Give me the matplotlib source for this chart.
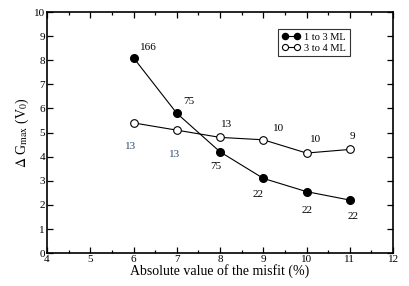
import matplotlib.pyplot as plt
from matplotlib.ticker import MultipleLocator

plt.rcParams['font.family'] = ['Liberation Serif', 'DejaVu Serif']
plt.rcParams['mathtext.fontset'] = 'stix'

# data
misfit = [6, 7, 8, 9, 10, 11]
g_1to3 = [8.1, 5.8, 4.2, 3.1, 2.55, 2.2]
g_3to4 = [5.4, 5.1, 4.8, 4.7, 4.15, 4.3]
lab_1to3 = ['166', '75', '75', '22', '22', '22']
lab_3to4 = ['13', '13', '13', '10', '10', '9']

fig = plt.figure(figsize=(4.09, 2.86), dpi=100)
ax = fig.add_axes([0.115, 0.115, 0.846, 0.843])

ax.plot(misfit, g_1to3, '-o', color='black', lw=0.8, ms=5.5,
        mfc='black', mec='black', label='1 to 3 ML')
ax.plot(misfit, g_3to4, '-o', color='black', lw=0.8, ms=5.5,
        mfc='white', mec='black', mew=0.8, label='3 to 4 ML')

# label offsets in pixels (x right, y down)
off_1to3 = [(15, -10), (12, -12), (-4, 15), (-5, 16), (1, 19), (3, 16)]
off_3to4 = [(-3, 24), (-2, 24), (7, -13), (15, -11), (9, -14), (3, -13)]
col_3to4 = ['#2b4a6b', '#2b4a6b', 'black', 'black', 'black', 'black']
px = 72 / 100
for x, y, t, o in zip(misfit, g_1to3, lab_1to3, off_1to3):
    ax.annotate(t, (x, y), xytext=(o[0] * px, -o[1] * px),
                textcoords='offset points', ha='center', va='center',
                fontsize=8)
for x, y, t, o, c in zip(misfit, g_3to4, lab_3to4, off_3to4, col_3to4):
    ax.annotate(t, (x, y), xytext=(o[0] * px, -o[1] * px),
                textcoords='offset points', ha='center', va='center',
                fontsize=8, color=c)

ax.set_xlim(4, 12)
ax.set_ylim(0, 10)
ax.xaxis.set_major_locator(MultipleLocator(1))
ax.xaxis.set_minor_locator(MultipleLocator(0.5))
ax.yaxis.set_major_locator(MultipleLocator(1))
ax.tick_params(which='both', direction='in', top=True, right=True,
               labelsize=8, pad=1.5)
ax.tick_params(which='major', length=4.5, width=0.9)
ax.tick_params(which='minor', length=2.5, width=0.9)
for s in ax.spines.values():
    s.set_linewidth(1.2)

ax.set_xlabel('Absolute value of the misfit (%)', fontsize=10, labelpad=0)
ax.set_ylabel(r'$\Delta$ G$_{\rm max}$ (V$_0$)', fontsize=10, labelpad=2)

leg = ax.legend(loc='upper left', bbox_to_anchor=(0.667, 0.93), fontsize=7.5,
                frameon=True, fancybox=False, edgecolor='black',
                handlelength=1.8, handletextpad=0.4, borderpad=0.35,
                labelspacing=0.15, numpoints=2, borderaxespad=0,
                markerscale=0.8)
leg.get_frame().set_linewidth(0.8)

fig.savefig('out.png', dpi=100)
